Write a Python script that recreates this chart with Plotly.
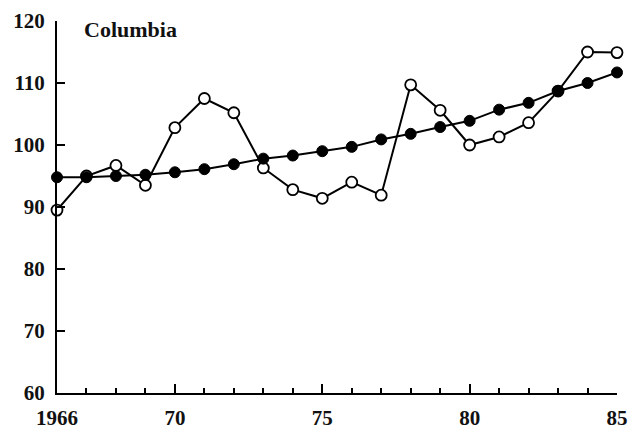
import plotly.graph_objects as go

years = list(range(1966, 1986))
# observed index (open circles)
observed = [89.5, 95.0, 96.7, 93.5, 102.8, 107.5, 105.2, 96.3, 92.8, 91.4,
            94.0, 91.9, 109.7, 105.6, 100.0, 101.3, 103.6, 108.7, 115.0, 114.9]
# smoothed trend (filled circles)
trend = [94.8, 94.8, 95.0, 95.2, 95.6, 96.1, 96.9, 97.8, 98.3, 99.0,
         99.7, 100.9, 101.8, 102.9, 103.9, 105.7, 106.8, 108.7, 110.0, 111.7]

x_tickvals = [1966, 1970, 1975, 1980, 1985]
x_ticktext = ["<b>1966</b>", "<b>70</b>", "<b>75</b>", "<b>80</b>", "<b>85</b>"]
y_tickvals = [60, 70, 80, 90, 100, 110, 120]
y_ticktext = ["<b>%d</b>" % v for v in y_tickvals]

font_family = "Liberation Serif, Times New Roman, serif"
tick_font = dict(family=font_family, size=21, color="#111")

fig = go.Figure()
fig.add_trace(go.Scatter(
    x=years, y=observed, mode="lines+markers",
    line=dict(color="black", width=2),
    marker=dict(symbol="circle", size=11, color="white",
                line=dict(color="black", width=1.8)),
    cliponaxis=False, showlegend=False,
))
fig.add_trace(go.Scatter(
    x=years, y=trend, mode="lines+markers",
    line=dict(color="black", width=2),
    marker=dict(symbol="circle", size=11, color="black",
                line=dict(color="black", width=1)),
    cliponaxis=False, showlegend=False,
))

fig.update_layout(
    width=628, height=429,
    margin=dict(l=57, r=11, t=21, b=36),
    paper_bgcolor="white", plot_bgcolor="white",
    font=dict(family=font_family, size=21, color="#111"),
    annotations=[dict(
        text="<b>Columbia</b>", x=1966.85, y=118.6, xref="x", yref="y",
        xanchor="left", yanchor="middle", showarrow=False,
        font=dict(family=font_family, size=22, color="#111"),
    )],
)
fig.update_xaxes(
    range=[1966, 1985], tickvals=x_tickvals, ticktext=x_ticktext,
    showgrid=False, zeroline=False, automargin=False,
    showline=True, linecolor="black", linewidth=2,
    ticks="inside", ticklen=9, tickwidth=2, tickcolor="black",
    minor=dict(dtick=1, tick0=1966, ticks="inside", ticklen=5,
               tickwidth=1.5, tickcolor="black"),
    tickfont=tick_font, ticklabelstandoff=5,
)
fig.update_yaxes(
    range=[60, 120], tickvals=y_tickvals, ticktext=y_ticktext,
    showgrid=False, zeroline=False, automargin=False,
    showline=True, linecolor="black", linewidth=2,
    ticks="inside", ticklen=8, tickwidth=2, tickcolor="black",
    tickfont=tick_font, ticklabelstandoff=6,
)

fig.write_html("out.html")
